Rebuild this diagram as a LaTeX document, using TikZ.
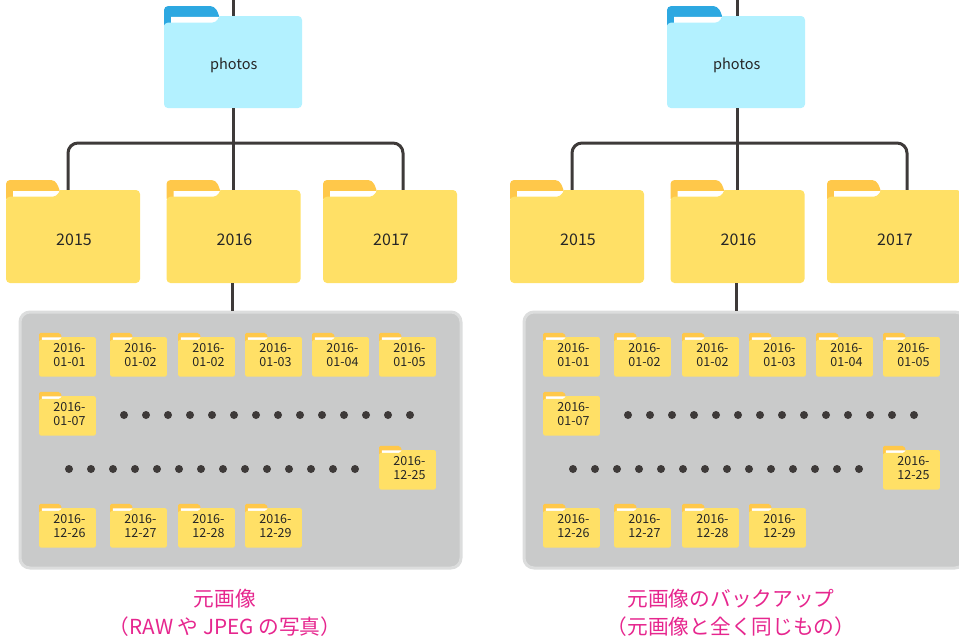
\documentclass[tikz,border=0pt]{standalone}
\usepackage{fontspec}
\setmainfont{Noto Sans CJK JP}
\usetikzlibrary{calc, positioning}
\definecolor{FolderYellow}{HTML}{FFE066}
\definecolor{FolderAmber}{HTML}{FFC84A}
\definecolor{FolderBlue}{HTML}{B3F1FF}
\definecolor{FolderNavy}{HTML}{2DA8E1}
\definecolor{LineDark}{HTML}{3E3A39}
\definecolor{PanelGray}{HTML}{C9CACA}
\definecolor{PanelEdge}{HTML}{DCDDDD}
\definecolor{CaptionPink}{HTML}{E6268E}

% name, top left corner, x scale, y scale, tab colour, body colour, label style, text
\newcommand{\folder}[8]{
    \begin{scope}[shift={(#2)}, xscale=#3, yscale=#4]
        \fill[#5, rounded corners=#4*4pt] (0,12) -- (0,-10) -- (49,-10) -- (54,0) -- (54,12) -- cycle;
        \fill[white] (7,1) -- (53.5,1) -- (50.7,8) -- (7,8) -- cycle;
        \fill[#6, rounded corners=#4*4pt] (0,93) -- (0,6.7) -- (50.7,6.7) [sharp corners] -- (54,0) [rounded corners=#4*4pt] -- (134,0) -- (134,93) -- cycle;
        \node[#7, minimum width=#3*134pt, minimum height=#4*93pt] (#1) at (67,46.5) {#8};
    \end{scope}
}

\begin{document}
\begin{tikzpicture}[
        x=1pt, y=-1pt,
        bigtext/.style={inner sep=0pt, align=center, text=black!85, text height=18pt, text depth=0pt, font=\fontsize{16}{18}\selectfont},
        phototext/.style={bigtext, text height=15.5pt, font=\fontsize{14.5}{16}\selectfont},
        smalltext/.style={inner sep=0pt, align=center, text=black!85, font=\fontsize{12.5}{14}\selectfont, text width=57pt},
        conn/.style={draw=LineDark, line width=3pt},
        panel/.style={rectangle, fill=PanelGray, draw=PanelEdge, line width=3pt, rounded corners=10pt, minimum width=441pt, minimum height=256pt},
        dot/.style={circle, fill=LineDark, inner sep=0pt, minimum size=8pt},
        caption/.style={inner sep=0pt, text=CaptionPink, font=\fontsize{20.7}{28}\selectfont, align=center}
    ]
    \clip (0,0) rectangle (959,637);

    \foreach \side/\dx/\px in {L/0/164, R/504/163} {
        \begin{scope}[xshift=\dx pt]
            \coordinate (top\side) at (233.5,0);
            \coordinate (bus\side) at (233.5,143);

            \folder{photos\side}{\px,16}{1.03}{0.99}{FolderNavy}{FolderBlue}{phototext}{\hspace{1.5pt}photos}
            \folder{a\side}{6,190}{1}{1}{FolderAmber}{FolderYellow}{bigtext}{\hspace{2pt}2015}
            \folder{b\side}{166.5,190}{1}{1}{FolderAmber}{FolderYellow}{bigtext}{\hspace{2pt}2016}
            \folder{c\side}{323,190}{1}{1}{FolderAmber}{FolderYellow}{bigtext}{\hspace{2pt}2017}

            \node[panel] (panel\side) at (240.5,440) {};

            \draw[conn] (top\side) -- (top\side |- photos\side.north);
            \draw[conn] (top\side |- photos\side.south) -- (top\side |- b\side.north);
            \draw[conn, rounded corners=10pt] ([xshift=-5pt]a\side.north) |- (bus\side) -| ([xshift=13pt]c\side.north);
            \draw[conn] ([xshift=-1.5pt]b\side.south) -- ([xshift=-1.5pt]b\side.south |- panel\side.north);

            % day folders
            \foreach \x/\y/\txt [count=\i] in {
                39/337/01-01, 110/337/01-02, 178/337/01-02, 245/337/01-03, 312/337/01-04, 379/337/01-05,
                39/396/01-07, 379/450/12-25,
                39/508/12-26, 110/508/12-27, 178/508/12-28, 245/508/12-29} {
                \folder{day\side\i}{\x,\y}{0.425}{0.425}{FolderAmber}{FolderYellow}{smalltext, xshift=2pt, yshift=1.5pt}{2016-\\\txt}
            }

            % dots
            \foreach \i in {0,...,13} {
                \node[dot] (upper\side\i) at ({124+22*\i},415) {};
                \node[dot] (lower\side\i) at ({69+22*\i},469) {};
            }
        \end{scope}
    }

    \node[caption] (captionL) at (225,613) {元画像\\（RAW や JPEG の写真）};
    \node[caption] (captionR) at (731,613) {元画像のバックアップ\\（元画像と全く同じもの）};
\end{tikzpicture}
\end{document}
